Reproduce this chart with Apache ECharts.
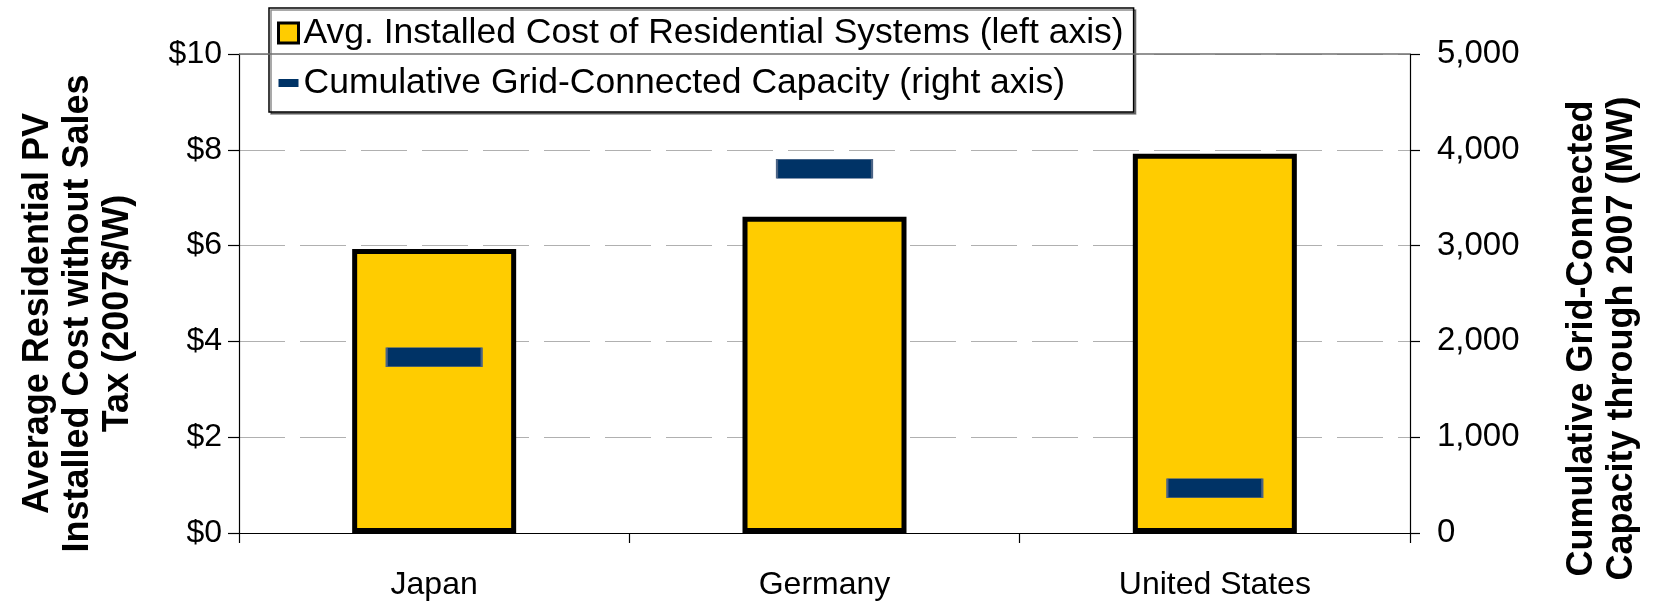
<!DOCTYPE html>
<html>
<head>
<meta charset="utf-8">
<script src="https://cdn.jsdelivr.net/npm/echarts@6/dist/echarts.min.js"></script>
<style>
html,body{margin:0;padding:0;background:#fff;}
#chart{width:1655px;height:601px;}
</style>
</head>
<body>
<div id="chart"></div>
<script>
const categories = ['Japan', 'Germany', 'United States'];
const costValues = [5.93, 6.60, 7.92];          // $/W, left axis
const capacityValues = [1834, 3803, 468];       // MW, right axis
const leftTicks = [0, 2, 4, 6, 8, 10];
const rightTicks = [0, 1000, 2000, 3000, 4000, 5000];
const costName = 'Avg. Installed Cost of Residential Systems (left axis)';
const capName = 'Cumulative Grid-Connected Capacity (right axis)';

const FONT = "'Liberation Sans', Arial, sans-serif";
const chart = echarts.init(document.getElementById('chart'), null, {renderer: 'canvas'});

const option = {
  backgroundColor: '#ffffff',
  animation: false,
  textStyle: {fontFamily: FONT, color: '#000'},
  grid: {left: 239, right: 245, top: 54, bottom: 66, containLabel: false},
  legend: {
    orient: 'vertical',
    left: 269, top: 8,
    padding: [7, 10, 11, 8],
    itemWidth: 20, itemHeight: 20, itemGap: 14,
    backgroundColor: '#ffffff',
    borderColor: '#000000', borderWidth: 1.5, borderRadius: 0,
    shadowColor: 'rgba(0,0,0,0.45)', shadowOffsetX: 2, shadowOffsetY: 2, shadowBlur: 0,
    textStyle: {fontFamily: FONT, fontSize: 35.5, color: '#000'},
    selectedMode: false,
    data: [
      {name: costName, icon: 'rect', itemStyle: {color: '#FFCC00', borderColor: '#000', borderWidth: 3}},
      {name: capName, icon: 'path://M0,0M20,20M0,6L20,6L20,14L0,14Z', itemStyle: {color: '#003366', borderWidth: 0}}
    ]
  },
  xAxis: {
    type: 'category',
    data: categories,
    boundaryGap: true,
    axisLine: {show: true, lineStyle: {color: '#000', width: 1.2}},
    axisTick: {show: true, length: 10, inside: false, alignWithLabel: false, lineStyle: {color: '#000', width: 1.2}},
    axisLabel: {fontSize: 32, color: '#000', margin: 36, fontFamily: FONT},
    splitLine: {show: false}
  },
  yAxis: [
    {
      type: 'value', position: 'left',
      min: leftTicks[0], max: leftTicks[leftTicks.length - 1], interval: leftTicks[1] - leftTicks[0],
      name: 'Average Residential PV\nInstalled Cost without Sales\nTax (2007$/W)',
      nameLocation: 'middle', nameRotate: 90, nameGap: 101, nameMoveOverlap: false,
      nameTextStyle: {fontSize: 36, fontWeight: 'bold', color: '#000', lineHeight: 40, fontFamily: FONT, padding: [0, 40, 0, 0]},
      axisLine: {show: true, lineStyle: {color: '#000', width: 1.2}},
      axisTick: {show: true, length: 11, inside: false, lineStyle: {color: '#000', width: 1.2}},
      axisLabel: {fontSize: 32, color: '#000', margin: 17, fontFamily: FONT, formatter: v => '$' + v},
      splitLine: {show: true, lineStyle: {color: '#b0b0b0', width: 1.2, type: [46, 15]}}
    },
    {
      type: 'value', position: 'right',
      min: rightTicks[0], max: rightTicks[rightTicks.length - 1], interval: rightTicks[1] - rightTicks[0],
      name: 'Cumulative Grid-Connected\nCapacity through 2007 (MW)',
      nameLocation: 'middle', nameRotate: 90, nameGap: 152, nameMoveOverlap: false,
      nameTextStyle: {fontSize: 36, fontWeight: 'bold', color: '#000', lineHeight: 40, fontFamily: FONT, padding: [0, 90, 0, 0]},
      axisLine: {show: true, lineStyle: {color: '#000', width: 1.2}},
      axisTick: {show: true, length: 10, inside: false, lineStyle: {color: '#000', width: 1.2}},
      axisLabel: {fontSize: 33, color: '#000', margin: 27, fontFamily: FONT, formatter: v => v.toLocaleString('en-US')},
      splitLine: {show: false}
    }
  ],
  series: [
    {
      name: costName,
      type: 'bar',
      yAxisIndex: 0,
      data: costValues,
      barWidth: 164,
      itemStyle: {color: '#FFCC00', borderColor: '#000000', borderWidth: 5},
      z: 2,
      markLine: {
        silent: true, symbol: 'none', label: {show: false},
        lineStyle: {color: '#707070', width: 1.5, type: 'solid'},
        data: [{yAxis: leftTicks[leftTicks.length - 1]}]
      }
    },
    {
      name: capName,
      type: 'scatter',
      yAxisIndex: 1,
      data: capacityValues,
      symbol: 'rect',
      symbolSize: [95, 19],
      itemStyle: {color: '#003366', borderColor: '#4a6385', borderWidth: 1, opacity: 1},
      z: 3
    }
  ]
};
chart.setOption(option);
</script>
</body>
</html>
